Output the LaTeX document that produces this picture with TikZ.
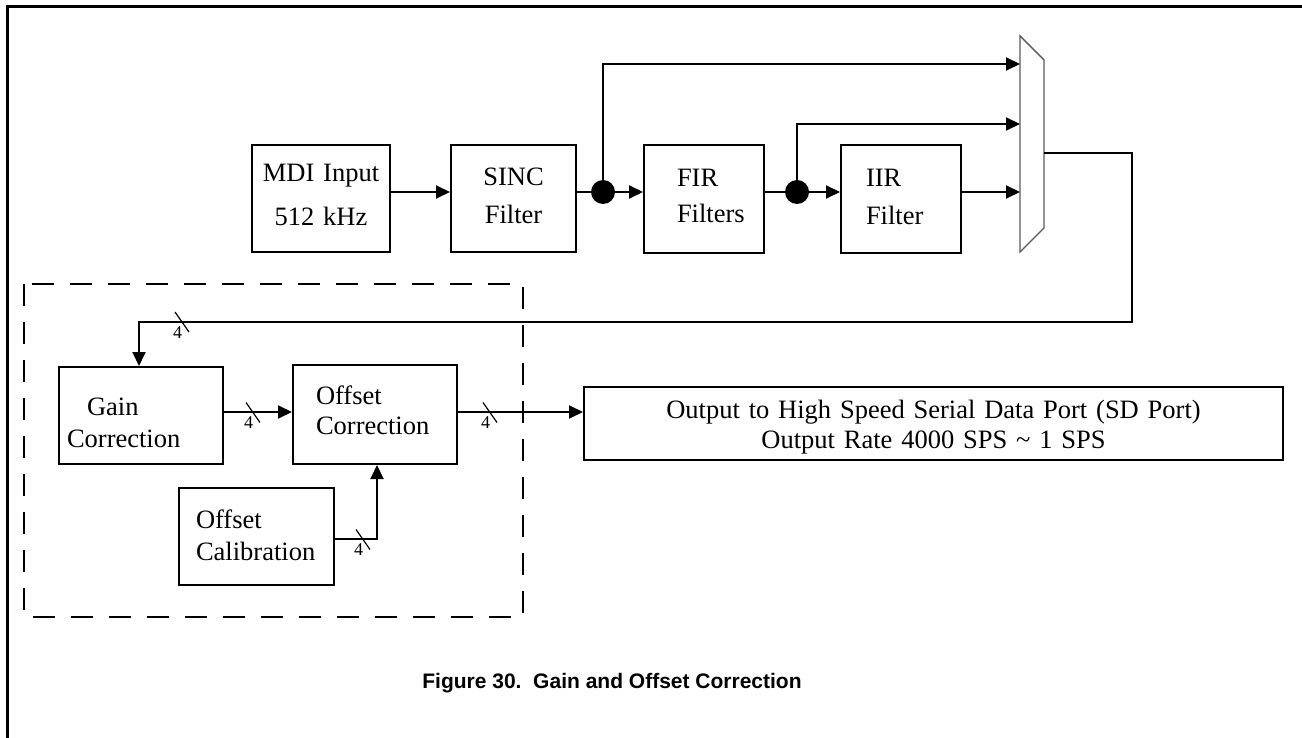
\documentclass[tikz,border=0pt]{standalone}
\usepackage{fontspec}
\setmainfont{Liberation Serif}
\newfontfamily\capfont{Liberation Sans}
\usetikzlibrary{arrows.meta}
\begin{document}
\begin{tikzpicture}[x=1pt,y=-1pt,
  box/.style={draw, line width=2pt, rectangle, anchor=north west, inner ysep=0pt},
  conn/.style={line width=2pt, -{Triangle[length=14pt,width=13pt]}},
  wire/.style={line width=2pt},
  dotn/.style={circle, fill, inner sep=0pt, minimum size=24pt},
  busmark/.style={line width=1.2pt},
  busnum/.style={font=\fontsize{18}{18}\selectfont, inner sep=0pt},
  muxline/.style={draw=black!65, line width=1.4pt, line join=miter},
  grp/.style={line width=2.3pt, dash pattern=on 22pt off 16pt},
]
\useasboundingbox (0,0) rectangle (1302,738);
\clip (0,0) rectangle (1302,738);
% frame
\draw[line width=3pt] (7,760) -- (7,7) -- (1320,7);

% top chain
\node[box, minimum width=138pt, minimum height=107pt, inner xsep=0pt, text width=138pt, align=center,
  font=\fontsize{26.5}{44}\selectfont] (mdi) at (251,144) {MDI Input\\512 kHz\rule[-8pt]{0pt}{8pt}};
\node[box, minimum width=125pt, minimum height=107pt, inner xsep=0pt, text width=125pt, align=center,
  font=\fontsize{26.5}{38}\selectfont] (sinc) at (450,144) {SINC\\Filter\rule[-5pt]{0pt}{5pt}};
\node[box, minimum width=120pt, minimum height=108pt, inner xsep=33pt, text width=54pt, align=left,
  font=\fontsize{26.5}{36}\selectfont] (fir) at (643,144) {FIR\\Filters\rule[-6pt]{0pt}{6pt}};
\node[box, minimum width=120pt, minimum height=108pt, inner xsep=25pt, text width=70pt, align=left,
  font=\fontsize{26.5}{38}\selectfont] (iir) at (840,144) {IIR\\Filter\rule[-5pt]{0pt}{5pt}};

\node[dotn] (d1) at (603,192) {};
\node[dotn] (d2) at (797,192) {};
\coordinate (t1) at (603,64);
\coordinate (t2) at (797,124);

% mux
\coordinate (mA) at (1020,36);
\coordinate (mB) at (1044,60);
\coordinate (mC) at (1044,228);
\coordinate (mD) at (1020,252);
\draw[muxline] (mA) -- (mB) -- (mC) -- (mD) -- cycle;
\coordinate (mout) at (1044,153);
\coordinate (r1) at (1132,153);
\coordinate (r2) at (1132,322);

\draw[conn] (mdi.east |- d1) -- (sinc.west |- d1);
\draw[wire] (sinc.east |- d1) -- (d1);
\draw[conn] (d1) -- (fir.west |- d1);
\draw[wire] (fir.east |- d1) -- (d2);
\draw[conn] (d2) -- (iir.west |- d1);
\draw[conn] (iir.east |- d1) -- (mA |- d1);
\draw[conn] (d1.center) -- (t1) -- (mA |- t1);
\draw[conn] (d2.center) -- (t2) -- (mA |- t2);

% lower group
\draw[grp] (24,284) rectangle (523,617);

\node[box, minimum width=164pt, minimum height=97pt, inner xsep=8pt, text width=148pt, align=left,
  font=\fontsize{26.5}{32}\selectfont] (gain) at (58,366) {\rule{0pt}{32pt}\hspace{20pt}Gain\\Correction};
\node[box, minimum width=164pt, minimum height=99pt, inner xsep=23pt, text width=118pt, align=left,
  font=\fontsize{26.5}{30}\selectfont] (ocor) at (292,364) {Offset\\Correction\rule[-8pt]{0pt}{8pt}};
\node[box, minimum width=155pt, minimum height=97pt, inner xsep=17pt, text width=121pt, align=left,
  font=\fontsize{26.5}{32}\selectfont] (ocal) at (178,487) {Offset\\Calibration\rule[-3pt]{0pt}{3pt}};
\node[box, minimum width=699pt, minimum height=73pt, inner xsep=0pt, text width=699pt, align=center,
  font=\fontsize{26.5}{30}\selectfont] (out) at (583,386) {\rule{0pt}{25pt}Output to High Speed Serial Data Port (SD Port)\\Output Rate 4000 SPS \textasciitilde{} 1 SPS};

\coordinate (ga) at (139,322);
\coordinate (cal) at (377,539);
\draw[conn] (mout) -- (r1) -- (r2) -- (ga) -- (gain.north -| ga);
\draw[conn] (gain.east |- 0,412) -- (ocor.west |- 0,412);
\draw[conn] (ocor.east |- 0,412) -- (out.west |- 0,412);
\draw[conn] (ocal.east |- cal) -- (cal) -- (cal |- ocor.south);

% bus width marks
\foreach \cx/\cy in {182/322, 253/412.5, 490/412.5, 363/539.5}{
  \draw[busmark] (\cx-7,\cy-10) -- (\cx+7,\cy+10);
  \node[busnum] at (\cx-4.5,\cy+10.5) {4};
}

% caption
\node[font=\capfont\bfseries\fontsize{21}{24}\selectfont] (cap) at (612,683) {Figure 30.\ \ Gain and Offset Correction};
\end{tikzpicture}
\end{document}
